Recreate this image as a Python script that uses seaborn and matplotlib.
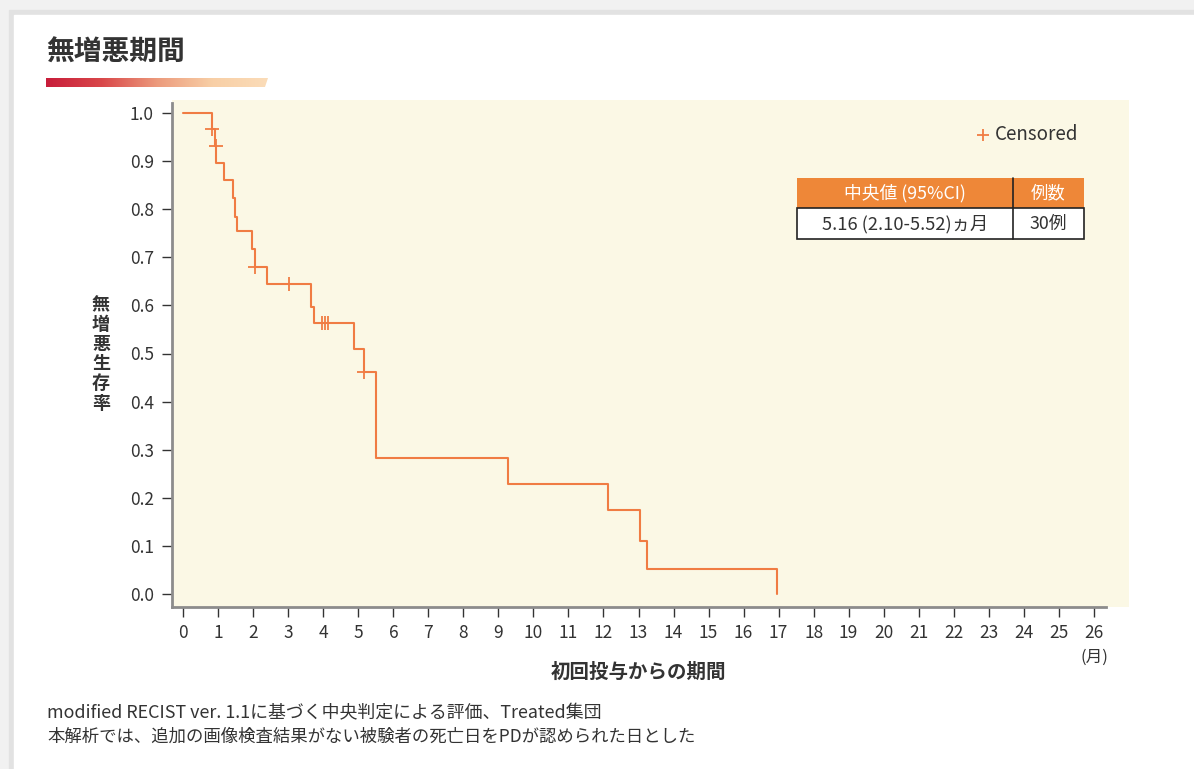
import matplotlib.pyplot as plt
import seaborn as sns
import numpy as np
import pandas as pd
from matplotlib.patches import Rectangle, Polygon
from matplotlib.colors import LinearSegmentedColormap


# Kaplan-Meier steps (months, survival after the step)
step_time = [0.83, 0.90, 0.92, 1.16, 1.41, 1.48, 1.54, 1.97, 2.06, 2.40,
             3.64, 3.73, 4.88, 5.17, 5.50, 9.28, 12.13, 13.04, 13.24, 16.96]
step_surv = [0.967, 0.931, 0.897, 0.860, 0.823, 0.784, 0.755, 0.717, 0.680, 0.645,
             0.597, 0.563, 0.509, 0.462, 0.282, 0.229, 0.175, 0.111, 0.053, 0.0]

# censored observations
censor_time = [0.81, 0.94, 2.05, 3.02, 3.95, 4.05, 4.14, 5.16]
censor_surv = [0.967, 0.931, 0.680, 0.645, 0.563, 0.563, 0.563, 0.462]

x_ticks = list(range(0, 27))
y_ticks = [round(v * 0.1, 1) for v in range(0, 11)]

table_header = ['中央値 (95%CI)', '例数']
table_row = ['5.16 (2.10-5.52)ヵ月', '30例']

title = '無増悪期間'
y_title = '無増悪生存率'
x_title = '初回投与からの期間'
notes = ['modified RECIST ver. 1.1に基づく中央判定による評価、Treated集団',
         '本解析では、追加の画像検査結果がない被験者の死亡日をPDが認められた日とした']

km = pd.DataFrame({'time': [0.0] + step_time, 'surv': [1.0] + step_surv})
cens = pd.DataFrame({'time': censor_time, 'surv': censor_surv})

sns.set_theme(style='ticks')
plt.rcParams['font.family'] = ['Noto Sans CJK JP', 'DejaVu Sans']

W, H = 1194, 769
line_color = '#F07C43'
text_color = '#333333'

fig = plt.figure(figsize=(W / 100, H / 100), dpi=100)
fig.patch.set_facecolor('white')

# background card
bg = fig.add_axes([0, 0, 1, 1], zorder=-1)
bg.set_xlim(0, W)
bg.set_ylim(H, 0)
bg.axis('off')
bg.add_patch(Rectangle((0, 0), W, H, color='#f1f1f1'))
bg.add_patch(Rectangle((9, 10), W, H, color='#e2e2e2'))
bg.add_patch(Rectangle((14, 15), W, H, color='white'))

# main plot area
left, right, top, bottom = 172, 1129, 100, 607
ax = fig.add_axes([left / W, 1 - bottom / H, (right - left) / W, (bottom - top) / H])
ax.set_facecolor('#FBF8E5')

sns.lineplot(data=km, x='time', y='surv', drawstyle='steps-post', estimator=None,
             sort=False, color=line_color, linewidth=1.5, ax=ax)
sns.scatterplot(data=cens, x='time', y='surv', marker='+', s=95, linewidth=1.3,
                color=line_color, ax=ax, zorder=3)

px_x = (1093.7 - 183.3) / 26
px_y = 594 - 113
ax.set_xlim(-(183.3 - left) / px_x, 26 + (right - 1093.7) / px_x)
ax.set_ylim(-(bottom - 594) / px_y, 1 + (113 - top) / px_y)

ax.set_xticks(x_ticks)
ax.set_xticklabels([str(v) for v in x_ticks])
ax.set_yticks(y_ticks)
ax.set_yticklabels(['{:.1f}'.format(v) for v in y_ticks])
ax.tick_params(axis='both', direction='out', length=7, width=1, color=text_color,
               labelcolor=text_color, labelsize=12.5)
ax.tick_params(axis='y', pad=6)
ax.tick_params(axis='x', pad=5)
ax.set_xlabel('')
ax.set_ylabel('')

for s in ['top', 'right']:
    ax.spines[s].set_visible(False)
for s in ['left', 'bottom']:
    ax.spines[s].set_color('#8c8c8c')
    ax.spines[s].set_linewidth(2)
ax.spines['bottom'].set_bounds(ax.get_xlim()[0], 26 + (1106 - 1093.7) / px_x)
ax.spines['left'].set_bounds(ax.get_ylim()[0], 1 + (113 - 103) / px_y)

# overlay in pixel coordinates
ov = fig.add_axes([0, 0, 1, 1], zorder=5)
ov.patch.set_alpha(0)
ov.axis('off')

# gradient bar under title
cmap = LinearSegmentedColormap.from_list('bar', ['#c81d3a', '#d9474a', '#ec9a7c', '#f8cfa6', '#fbdcb8'])
grad = np.linspace(0, 1, 256).reshape(1, -1)
im = ov.imshow(grad, cmap=cmap, extent=[46, 268, 87, 78], aspect='auto', zorder=2)
clip = Polygon([(46, 87), (265, 87), (268, 78), (46, 78)], transform=ov.transData)
im.set_clip_path(clip)
ov.set_xlim(0, W)
ov.set_ylim(H, 0)

ov.text(46, 53, title, fontsize=20, weight='bold', color=text_color, va='center', ha='left')

ov.text(101, 354, '\n'.join(y_title), fontsize=13, weight='bold', color=text_color,
        va='center', ha='center', linespacing=1.05)
ov.text(1094, 657, '(月)', fontsize=12, color=text_color, va='center', ha='center')
ov.text(638, 672, x_title, fontsize=14, weight='bold', color=text_color, va='center', ha='center')

ov.text(47, 713, notes[0], fontsize=12.9, color=text_color, va='center', ha='left')
ov.text(47, 737, notes[1], fontsize=12.5, color=text_color, va='center', ha='left')

# legend
ov.plot([983], [135], marker='+', markersize=9, markeredgewidth=1.3, color=line_color, linestyle='none')
ov.text(995, 135, 'Censored', fontsize=13.5, color=text_color, va='center', ha='left')

# median table
ov.add_patch(Rectangle((797, 178), 287, 30, facecolor='#EE8738', edgecolor='none', zorder=3))
ov.add_patch(Rectangle((797, 208), 287, 31, facecolor='white', edgecolor='#222222', linewidth=1.2, zorder=3))
ov.plot([1013, 1013], [178, 239], color='#222222', linewidth=1.2, zorder=4)
ov.text(905, 193, table_header[0], fontsize=12.8, color='white', va='center', ha='center', zorder=5)
ov.text(1048, 193, table_header[1], fontsize=12.5, color='white', va='center', ha='center', zorder=5)
ov.text(905, 224, table_row[0], fontsize=13.2, color=text_color, va='center', ha='center', zorder=5)
ov.text(1048, 224, table_row[1], fontsize=12.8, color=text_color, va='center', ha='center', zorder=5)

plt.savefig('out.png', dpi=100)
